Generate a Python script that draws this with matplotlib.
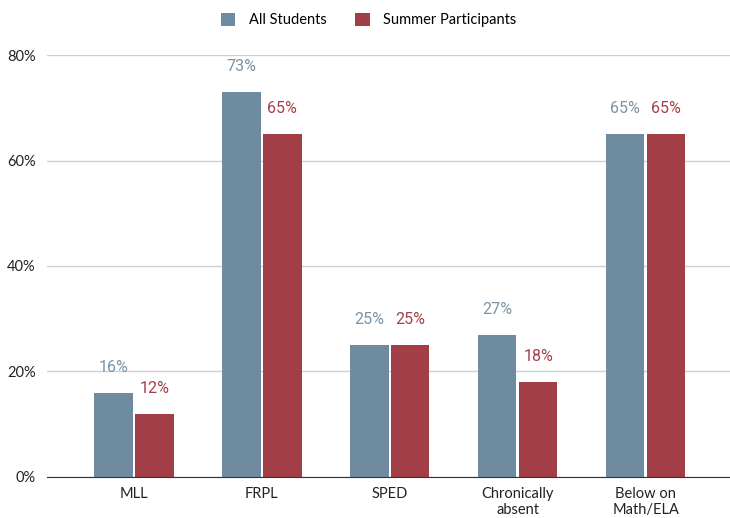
import matplotlib.pyplot as plt
import numpy as np

categories = ["MLL", "FRPL", "SPED", "Chronically\nabsent", "Below on\nMath/ELA"]
all_students = [16, 73, 25, 27, 65]
summer = [12, 65, 25, 18, 65]
series_names = ["All Students", "Summer Participants"]
yticks = [0, 20, 40, 60, 80]

blue = "#6e8ba0"
red = "#a23e45"
blue_txt = "#7893a8"
red_txt = "#a53f48"

fig = plt.figure(figsize=(7.3, 5.18), dpi=100)
ax = fig.add_axes([0.0644, 0.0792, 0.9356, 0.8146])

x = np.arange(len(categories))
w = 0.3
b1 = ax.bar(x - 0.16, all_students, w, color=blue, label=series_names[0], zorder=3)
b2 = ax.bar(x + 0.16, summer, w, color=red, label=series_names[1], zorder=3)

# value labels above each bar
for bars, vals, c in [(b1, all_students, blue_txt), (b2, summer, red_txt)]:
    for rect, v in zip(bars, vals):
        ax.annotate(f"{v}%", (rect.get_x() + rect.get_width() / 2, v),
                    xytext=(0, 13), textcoords="offset points", ha="center", va="bottom",
                    color=c, fontsize=11.5, family="Roboto")

ax.set_ylim(0, 80)
ax.set_xlim(-0.68, 4.66)
ax.set_yticks(yticks)
ax.set_yticklabels([f"{t}%" for t in yticks], family="Lato", fontsize=10.5, color="#222222")
ax.set_xticks(x)
ax.set_xticklabels(categories, family="Lato", fontsize=10.5, color="#222222", linespacing=1.2)
ax.tick_params(axis="y", length=0, pad=8)
ax.tick_params(axis="x", length=0, pad=7)
ax.grid(axis="y", color="#d0d0d0", linewidth=1, zorder=0)
for s in ["top", "right", "left"]:
    ax.spines[s].set_visible(False)
ax.spines["bottom"].set_color("#333333")
ax.spines["bottom"].set_zorder(4)

fig.legend(handles=[b1, b2], labels=series_names, loc="center", bbox_to_anchor=(0.505, 0.961),
           ncol=2, frameon=False, handlelength=1.0, handleheight=1.0, handletextpad=0.9,
           columnspacing=2.0, prop={"family": "Lato", "size": 10.5})

fig.savefig("out.png", dpi=100)
